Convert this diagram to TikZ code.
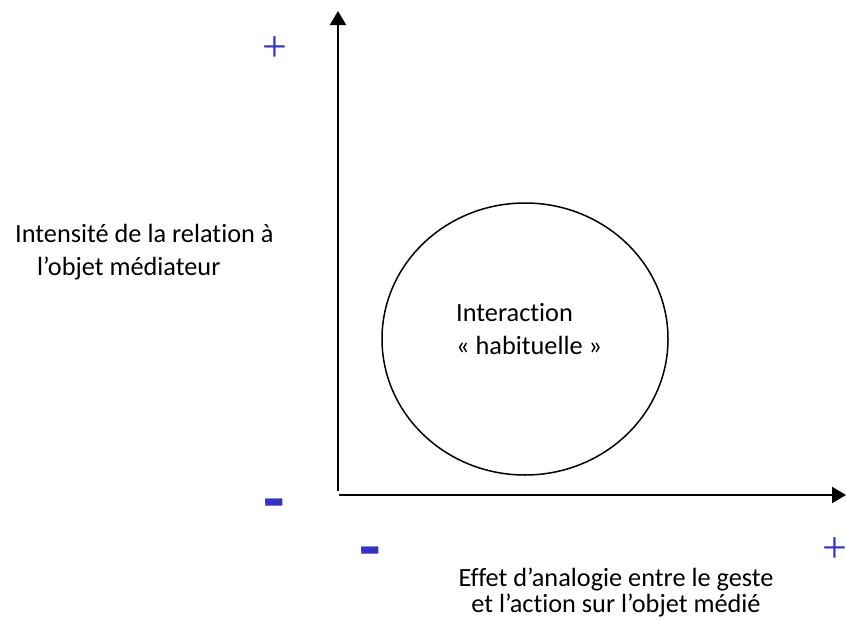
\documentclass[tikz,border=0pt]{standalone}
\usepackage{fontspec}
\setmainfont{Carlito}[Ligatures=NoCommon]
\newfontfamily\signfont{Liberation Serif}
\usetikzlibrary{arrows.meta}
\definecolor{signblue}{RGB}{51,51,204}

\begin{document}
\begin{tikzpicture}[x=1pt,y=-1pt,
  axis/.style={line width=2pt,-{Triangle[length=14pt,width=16pt]}},
  lbl/.style={inner sep=0pt,font=\fontsize{26.3}{33}\selectfont},
  plussign/.style={inner sep=0pt,text=signblue,font=\signfont\fontsize{44}{44}\selectfont},
  minussign/.style={inner sep=0pt,text=signblue,font=\bfseries\fontsize{70}{70}\selectfont}]
\useasboundingbox (0,0) rectangle (846,619);
% axes
\coordinate (origY) at (338,491);
\coordinate (topY) at (338,11);
\coordinate (origX) at (339,495);
\coordinate (endX) at (846,495);
\draw[axis] (origY) -- (topY);
\draw[axis] (origX) -- (endX);
% zone of usual interaction
\draw[line width=1.5pt] (525,339) ellipse [x radius=143, y radius=136];
\node[lbl,anchor=base west] (interact) at (456,321) {Interaction};
\node[lbl,anchor=base west] (habit) at (456,354) {«~habituelle~»};
% axis labels
\node[lbl,anchor=base west] (ylab1) at (15,242) {Intensité de la relation à};
\node[lbl,anchor=base west] (ylab2) at (37,275) {l’objet médiateur};
\node[lbl,anchor=base] (xlab1) at (616,586) {Effet d’analogie entre le geste};
\node[lbl,anchor=base] (xlab2) at (616,612) {et l’action sur l’objet médié};
% signs
\foreach \name/\x/\y in {plusY/275/49, plusX/835/550}
\node[plussign] (\name) at (\x,\y) {+};
\foreach \name/\x/\y in {minusY/274/511, minusX/370/559}
\node[minussign] (\name) at (\x,\y) {-};
\end{tikzpicture}
\end{document}
